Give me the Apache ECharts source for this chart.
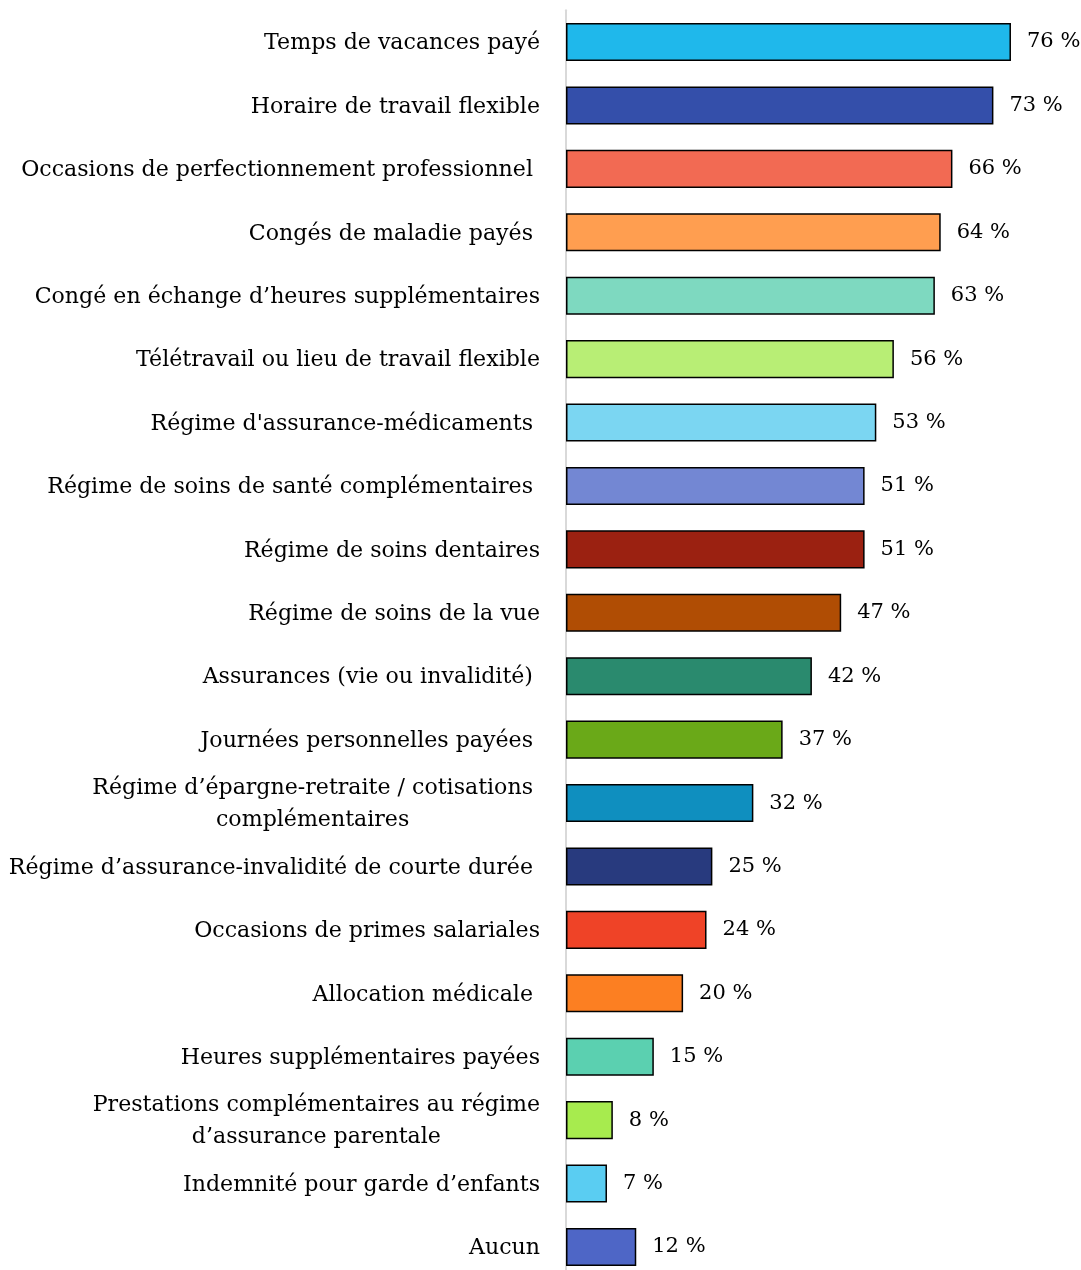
<!DOCTYPE html>
<html>
<head>
<meta charset="utf-8">
<script src="https://cdn.jsdelivr.net/npm/echarts@6/dist/echarts.min.js"></script>
<style>
html,body{margin:0;padding:0;background:#fff;}
#chart{width:1081px;height:1270px;}
</style>
</head>
<body>
<div id="chart"></div>
<script>
const categories = [
  "Temps de vacances payé",
  "Horaire de travail flexible",
  "Occasions de perfectionnement professionnel ",
  "Congés de maladie payés ",
  "Congé en échange d’heures supplémentaires",
  "Télétravail ou lieu de travail flexible",
  "Régime d'assurance-médicaments ",
  "Régime de soins de santé complémentaires ",
  "Régime de soins dentaires",
  "Régime de soins de la vue",
  "Assurances (vie ou invalidité) ",
  "Journées personnelles payées ",
  "Régime d’épargne-retraite / cotisations \ncomplémentaires ",
  "Régime d’assurance-invalidité de courte durée ",
  "Occasions de primes salariales",
  "Allocation médicale ",
  "Heures supplémentaires payées",
  "Prestations complémentaires au régime\nd’assurance parentale",
  "Indemnité pour garde d’enfants",
  "Aucun"
];
const values = [76, 73, 66, 64, 63, 56, 53, 51, 51, 47, 42, 37, 32, 25, 24, 20, 15, 8, 7, 12];
const colors = [
  "#1FB8EB", "#344FAA", "#F26A53", "#FF9E50", "#7ED9C0",
  "#B8EE75", "#7BD6F2", "#7387D3", "#9B2111", "#B04D04",
  "#2A8A6E", "#6AA918", "#0F8FBF", "#283A7E", "#EF4327",
  "#FC7F22", "#5BD0B0", "#A7EB4E", "#5ACDF2", "#4E66C6"
];

const FONT = "DejaVu Serif";
const chart = echarts.init(document.getElementById('chart'), null, {renderer: 'canvas'});
chart.setOption({
  animation: false,
  backgroundColor: '#ffffff',
  grid: {left: 566, top: 10.3, height: 1268.4, width: 468.4, containLabel: false, outerBoundsMode: 'none'},
  xAxis: {
    type: 'value', min: 0, max: 80,
    show: false
  },
  yAxis: {
    type: 'category',
    data: categories,
    inverse: true,
    axisLine: {show: true, lineStyle: {color: '#d9d9d9', width: 2}},
    axisTick: {show: false},
    axisLabel: {
      margin: 26,
      formatter: function (v) {
        return v.split('\n').map(function (l) { return '{c|' + l + '}'; }).join('\n');
      },
      rich: {
        c: {fontFamily: FONT, fontSize: 22.1, color: '#000', align: 'center', lineHeight: 32, padding: [3, 0, 0, 0]}
      }
    }
  },
  series: [{
    type: 'bar',
    data: values.map(function (v, i) {
      return {value: v, itemStyle: {color: colors[i]}};
    }),
    barCategoryGap: '40%',
    itemStyle: {borderColor: '#000', borderWidth: 1.5},
    label: {
      show: true, position: 'right', distance: 16,
      formatter: '{c} %',
      fontFamily: FONT, fontSize: 21, color: '#000', padding: [3, 0, 0, 0]
    }
  }]
});
</script>
</body>
</html>
